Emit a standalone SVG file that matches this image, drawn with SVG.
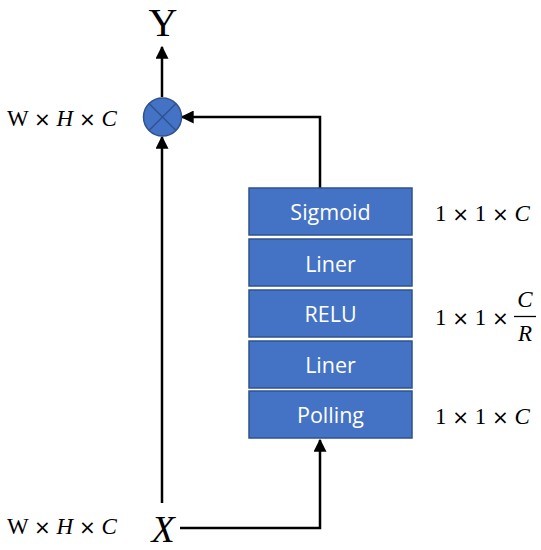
<svg xmlns="http://www.w3.org/2000/svg" width="541" height="550" viewBox="0 0 541 550">
<style>
.box{fill:#4472C4;stroke:#2F528F;stroke-width:1.5}
.bt{font-family:"Open Sans","Noto Sans",sans-serif;font-size:21.5px;fill:#fff;text-anchor:middle}
.m{font-family:"Liberation Serif","DejaVu Serif",serif;font-size:23px;fill:#000}
.i{font-style:italic}
.x{font-family:"DejaVu Sans",sans-serif;font-size:20px}
.ln{fill:none;stroke:#000;stroke-width:2.5}
</style>
<defs>
<marker id="ah" viewBox="0 0 10 10" refX="9" refY="5" markerWidth="5.2" markerHeight="5.2" orient="auto" markerUnits="strokeWidth">
<path d="M0,0 L10,5 L0,10 z" fill="#000"/>
</marker>
</defs>
<rect width="541" height="550" fill="#fff"/>
<g id="connectors">
<line class="ln" x1="162" y1="97" x2="162" y2="47" marker-end="url(#ah)"/>
<polyline class="ln" points="320,188 320,117 182,117" marker-end="url(#ah)"/>
<line class="ln" x1="162" y1="503" x2="162" y2="137" marker-end="url(#ah)"/>
<polyline class="ln" points="180,528 320,528 320,440" marker-end="url(#ah)"/>
</g>
<g id="mult">
<circle cx="162.5" cy="117" r="19" fill="#4472C4" stroke="#2F528F" stroke-width="1.5"/>
<line x1="149" y1="103.5" x2="176" y2="130.5" stroke="#2F528F" stroke-width="1.5"/>
<line x1="176" y1="103.5" x2="149" y2="130.5" stroke="#2F528F" stroke-width="1.5"/>
</g>
<g id="Y"><text x="163" y="36" font-family="Liberation Serif,serif" font-size="40" text-anchor="middle">Y</text></g>
<g id="X"><text x="163" y="542" font-family="Liberation Serif,serif" font-size="38" font-style="italic" text-anchor="middle">X</text></g>
<g id="sigmoid"><rect class="box" x="249" y="188" width="163" height="47"/><text class="bt" x="330.5" y="220">Sigmoid</text></g>
<g id="liner1"><rect class="box" x="249" y="239" width="163" height="47"/><text class="bt" x="330.5" y="272">Liner</text></g>
<g id="relu"><rect class="box" x="249" y="290" width="163" height="47"/><text class="bt" x="330.5" y="322">RELU</text></g>
<g id="liner2"><rect class="box" x="249" y="341" width="163" height="47"/><text class="bt" x="330.5" y="373">Liner</text></g>
<g id="polling"><rect class="box" x="249" y="391" width="163" height="47"/><text class="bt" x="330.5" y="423">Polling</text></g>
<g id="labels">
<text class="m" x="7" y="126">W <tspan class="x">×</tspan> <tspan class="i">H</tspan> <tspan class="x">×</tspan> <tspan class="i">C</tspan></text>
<text class="m" x="7" y="534">W <tspan class="x">×</tspan> <tspan class="i">H</tspan> <tspan class="x">×</tspan> <tspan class="i">C</tspan></text>
<text class="m" x="435" y="221">1 <tspan class="x">×</tspan> 1 <tspan class="x">×</tspan> <tspan class="i">C</tspan></text>
<text class="m" x="435" y="325">1 <tspan class="x">×</tspan> 1 <tspan class="x">×</tspan></text>
<text class="m i" x="525" y="307" text-anchor="middle">C</text>
<line x1="514" y1="316.5" x2="536" y2="316.5" stroke="#000" stroke-width="1.3"/>
<text class="m i" x="525" y="341" text-anchor="middle">R</text>
<text class="m" x="435" y="424">1 <tspan class="x">×</tspan> 1 <tspan class="x">×</tspan> <tspan class="i">C</tspan></text>
</g>
</svg>
